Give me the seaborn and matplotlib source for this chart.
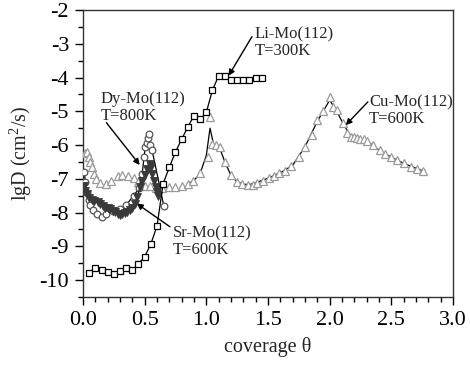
import numpy as np
import pandas as pd
import matplotlib
matplotlib.use('Agg')
import matplotlib.pyplot as plt
import seaborn as sns
from matplotlib.ticker import MultipleLocator

# ── data ─────────────────────────────────────────────────────
li_theta = [0.05, 0.10, 0.15, 0.20, 0.25, 0.30, 0.35, 0.40, 0.45, 0.50,
            0.55, 0.60, 0.65, 0.70, 0.75, 0.80, 0.85, 0.90, 0.95, 1.00,
            1.05, 1.10, 1.15, 1.20, 1.25, 1.30, 1.35, 1.40, 1.45]
li_lgD = [-9.78, -9.64, -9.71, -9.75, -9.81, -9.73, -9.64, -9.71, -9.51, -9.31,
          -8.93, -8.40, -7.14, -6.66, -6.20, -5.83, -5.46, -5.13, -5.24, -5.03,
          -4.37, -3.95, -3.95, -4.06, -4.08, -4.06, -4.08, -4.00, -4.01]

cu_theta = [0.016, 0.03, 0.045, 0.06, 0.075, 0.09, 0.105, 0.14, 0.19, 0.23,
            0.28, 0.32, 0.365, 0.41, 0.45, 0.50, 0.54, 0.59, 0.64, 0.70,
            0.75, 0.80, 0.85, 0.89, 0.95, 1.01, 1.03, 1.05, 1.08, 1.11,
            1.15, 1.20, 1.25, 1.29, 1.34, 1.38, 1.41, 1.46, 1.51, 1.55,
            1.59, 1.64, 1.69, 1.75, 1.80, 1.86, 1.90, 1.95, 2.00, 2.03,
            2.06, 2.105, 2.14, 2.17, 2.20, 2.22, 2.25, 2.28, 2.30, 2.35,
            2.41, 2.45, 2.50, 2.55, 2.60, 2.66, 2.71, 2.755]
cu_lgD = [-6.23, -6.21, -6.35, -6.5, -6.65, -6.85, -7.0, -7.12, -7.15, -7.05,
          -6.92, -6.88, -6.92, -6.99, -7.10, -7.20, -7.21, -7.26, -7.26, -7.25,
          -7.25, -7.20, -7.15, -7.06, -6.84, -6.35, -5.16, -5.97, -6.00, -6.05,
          -6.49, -6.89, -7.09, -7.16, -7.17, -7.17, -7.12, -7.06, -6.98, -6.92,
          -6.84, -6.76, -6.62, -6.35, -6.05, -5.70, -5.26, -5.00, -4.59, -4.88,
          -4.96, -5.34, -5.65, -5.75, -5.77, -5.79, -5.81, -5.83, -5.87, -6.01,
          -6.15, -6.27, -6.36, -6.44, -6.54, -6.64, -6.72, -6.76]

# fitted curve drawn through the Cu data
cu_fit_theta = [0.85, 0.90, 0.95, 1.00, 1.03, 1.06, 1.11, 1.15, 1.20, 1.25,
                1.30, 1.35, 1.40, 1.50, 1.60, 1.70, 1.80, 1.90, 2.00, 2.05,
                2.10, 2.17, 2.30, 2.40, 2.50, 2.60, 2.75]
cu_fit_lgD = [-7.15, -7.05, -6.84, -6.30, -5.50, -6.00, -6.10, -6.50, -6.90, -7.09,
              -7.16, -7.17, -7.12, -6.98, -6.82, -6.60, -6.05, -5.30, -4.67, -4.95,
              -5.30, -5.75, -5.87, -6.15, -6.36, -6.54, -6.76]

dy_theta = [0.01, 0.02, 0.035, 0.045, 0.06, 0.08, 0.11, 0.15, 0.19, 0.245,
            0.30, 0.35, 0.41, 0.455, 0.48, 0.495, 0.505, 0.515, 0.525, 0.535,
            0.545, 0.56, 0.655]
dy_lgD = [-6.80, -7.10, -7.43, -7.62, -7.78, -7.93, -8.04, -8.12, -8.05, -7.95,
          -7.90, -7.78, -7.50, -7.28, -6.85, -6.35, -6.05, -5.93, -5.80, -5.68,
          -6.00, -6.15, -7.80]

sr_theta = [0.01, 0.02, 0.03, 0.05, 0.07, 0.09, 0.12, 0.14, 0.16, 0.18,
            0.20, 0.22, 0.24, 0.26, 0.28, 0.30, 0.32, 0.34, 0.36, 0.38,
            0.40, 0.42, 0.44, 0.46, 0.48, 0.50, 0.52, 0.54, 0.55, 0.56,
            0.575, 0.59, 0.60, 0.61]
sr_lgD = [-7.20, -7.35, -7.45, -7.58, -7.62, -7.65, -7.70, -7.75, -7.80, -7.85,
          -7.86, -7.90, -7.95, -7.98, -8.05, -8.07, -8.05, -8.02, -7.97, -7.92,
          -7.85, -7.75, -7.55, -7.25, -7.05, -6.90, -6.72, -6.55, -6.65, -6.85,
          -7.05, -7.25, -7.40, -7.50]

# ── style ────────────────────────────────────────────────────
sns.set_style("ticks")
plt.rcParams['font.family'] = ['Liberation Serif', 'DejaVu Serif']
plt.rcParams['mathtext.fontset'] = 'custom'
plt.rcParams['mathtext.rm'] = 'Liberation Serif'

fig = plt.figure(figsize=(4.70, 3.67), dpi=100)
ax = fig.add_axes([0.1766, 0.1907, 0.7872, 0.7821])

gray = '#9a9a9a'

# Cu-Mo: gray open triangles + black fitted curve
sns.lineplot(x=cu_fit_theta, y=cu_fit_lgD, ax=ax, color='black', lw=0.9,
             estimator=None, sort=False, zorder=2)
sns.lineplot(x=cu_theta, y=cu_lgD, ax=ax, lw=0, marker='^', ms=5.2,
             mfc='white', mec=gray, mew=0.9, estimator=None, sort=False, zorder=3)

# Dy-Mo: open circles
sns.lineplot(x=dy_theta, y=dy_lgD, ax=ax, color='black', lw=0.9, marker='o',
             ms=4.8, mfc='white', mec='#555555', mew=0.9,
             estimator=None, sort=False, zorder=4)

# Sr-Mo: filled down triangles
sns.lineplot(x=sr_theta, y=sr_lgD, ax=ax, color='black', lw=0.9, marker='v',
             ms=5.2, mfc='#3a3a3a', mec='#3a3a3a', mew=0.6,
             estimator=None, sort=False, zorder=5)

# Li-Mo: open squares
sns.lineplot(x=li_theta, y=li_lgD, ax=ax, color='black', lw=0.9, marker='s',
             ms=4.3, mfc='white', mec='black', mew=0.9,
             estimator=None, sort=False, zorder=6)

# ── axes ─────────────────────────────────────────────────────
ax.set_xlim(0, 3.0)
ax.set_ylim(-10.5, -2)
ax.xaxis.set_major_locator(MultipleLocator(0.5))
ax.xaxis.set_minor_locator(MultipleLocator(0.1))
ax.yaxis.set_major_locator(MultipleLocator(1))
ax.yaxis.set_minor_locator(MultipleLocator(0.5))
ax.set_xticks([0, 0.5, 1.0, 1.5, 2.0, 2.5, 3.0])
ax.set_xticklabels(['0.0', '0.5', '1.0', '1.5', '2.0', '2.5', '3.0'])
ax.set_yticks(range(-10, -1))
ax.set_yticklabels([str(v) for v in range(-10, -1)])
ax.tick_params(which='major', direction='out', length=6, width=1.0,
               labelsize=16, colors='black', pad=4)
ax.tick_params(which='minor', direction='out', length=3.5, width=1.0,
               colors='black')
for s in ax.spines.values():
    s.set_linewidth(1.0)
    s.set_color('#333333')

ax.set_xlabel(r'coverage θ', fontsize=14.5, labelpad=5)
ax.set_ylabel(r'lgD (cm$^2$/s)', fontsize=14.5, labelpad=4)

# ── annotations ──────────────────────────────────────────────
arrow = dict(arrowstyle='-|>', color='black', lw=1.0, mutation_scale=9,
             shrinkA=0, shrinkB=0)
txt = dict(fontsize=12, va='center', ha='left', linespacing=1.05)

ax.text(1.39, -2.98, 'Li-Mo(112)\nT=300K', **txt)
ax.annotate('', xy=(1.18, -3.95), xytext=(1.37, -2.79), arrowprops=arrow)

ax.text(2.32, -4.97, 'Cu-Mo(112)\nT=600K', **txt)
ax.annotate('', xy=(2.13, -5.41), xytext=(2.31, -4.72), arrowprops=arrow)

ax.text(0.14, -4.88, 'Dy-Mo(112)\nT=800K', **txt)
ax.annotate('', xy=(0.46, -6.59), xytext=(0.19, -5.34), arrowprops=arrow)

ax.text(0.73, -8.85, 'Sr-Mo(112)\nT=600K', **txt)
ax.annotate('', xy=(0.435, -7.73), xytext=(0.705, -8.42), arrowprops=arrow)

fig.savefig('out.png', dpi=100)
